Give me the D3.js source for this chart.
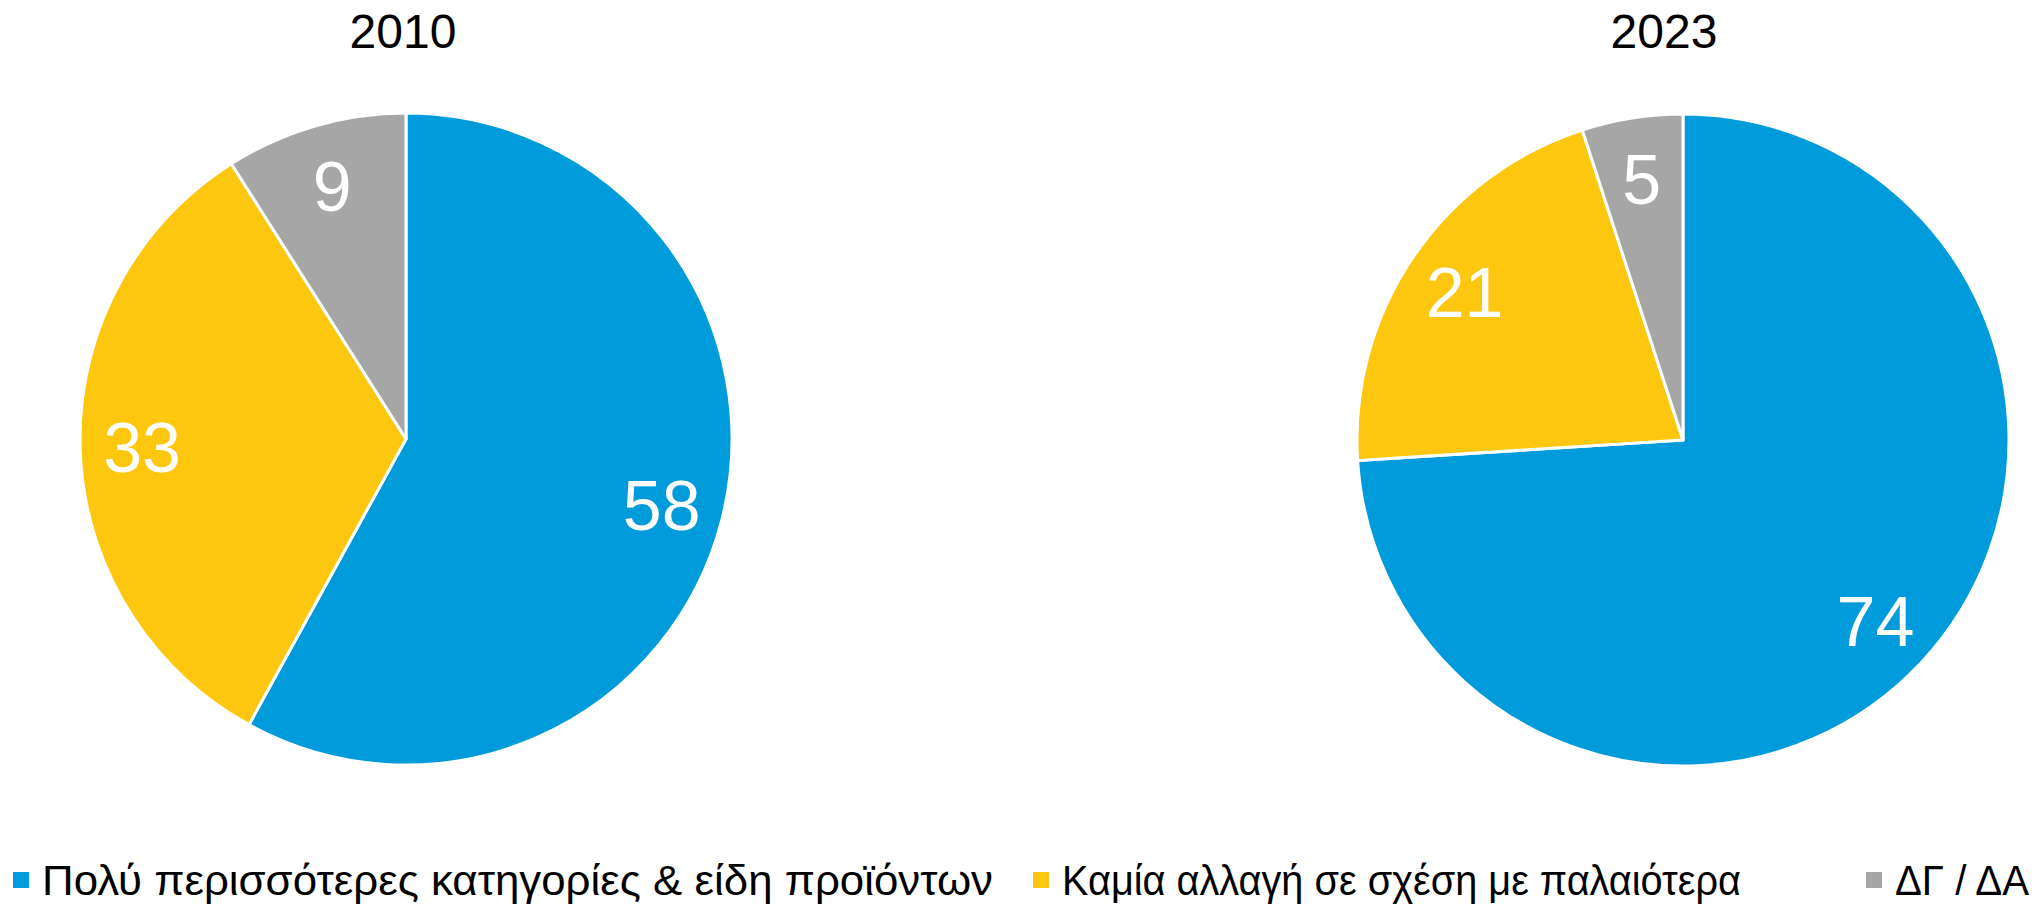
<!DOCTYPE html>
<html>
<head>
<meta charset="utf-8">
<script src="https://cdn.jsdelivr.net/npm/d3@7"></script>
<style>
  body { margin: 0; background: #fff; }
  svg { display: block; }
</style>
</head>
<body>
<div id="chart"></div>
<script>
// data
var categories = ["Πολύ περισσότερες κατηγορίες & είδη προϊόντων", "Καμία αλλαγή σε σχέση με παλαιότερα", "ΔΓ / ΔΑ"];
var years = ["2010", "2023"];
var values2010 = [58, 33, 9];
var values2023 = [74, 21, 5];
var colors = ["#009bdb", "#fdc60f", "#a6a6a6"];

var width = 2043, height = 904;

var svg = d3.select("#chart")
  .append("svg")
    .attr("width", width)
    .attr("height", height);

var color = d3.scaleOrdinal().domain(categories).range(colors);

var pie = d3.pie().sort(null).value(function(d) { return d.value; });
var radius = 326;
var arc = d3.arc().innerRadius(0).outerRadius(radius);
var labelArc = d3.arc().innerRadius(radius * 0.81).outerRadius(radius * 0.81);

var pies = [
  {year: years[0], values: values2010, cx: 406, cy: 439, tx: 403},
  {year: years[1], values: values2023, cx: 1683, cy: 440, tx: 1664}
];

pies.forEach(function(p) {
  var data = categories.map(function(c, i) { return {cat: c, value: p.values[i]}; });
  var g = svg.append("g")
      .attr("transform", "translate(" + p.cx + "," + p.cy + ")");

  g.selectAll("path")
    .data(pie(data))
    .enter()
    .append("path")
      .attr("d", arc)
      .style("fill", function(d) { return color(d.data.cat); })
      .style("stroke", "#fff")
      .style("stroke-width", 3)
      .style("stroke-linejoin", "round");

  g.selectAll("text.val")
    .data(pie(data))
    .enter()
    .append("text")
      .attr("class", "val")
      .attr("transform", function(d) { return "translate(" + labelArc.centroid(d) + ")"; })
      .attr("text-anchor", "middle")
      .attr("dy", "0.36em")
      .style("font-family", "'Liberation Sans', Arial, sans-serif")
      .style("font-size", "70px")
      .style("fill", "#fff")
      .text(function(d) { return d.data.value; });

  // title
  svg.append("text")
      .attr("x", p.tx)
      .attr("y", 48)
      .attr("text-anchor", "middle")
      .style("font-family", "'Liberation Sans', Arial, sans-serif")
      .style("font-size", "48px")
      .style("fill", "#000")
      .text(p.year);
});

// legend (reference font is condensed, so squeeze text to its width)
var legendX = [13, 1033, 1866];
var legendW = [951, 679, 134];
var legend = svg.selectAll("g.legend")
  .data(categories)
  .enter()
  .append("g")
    .attr("class", "legend")
    .attr("transform", function(d, i) { return "translate(" + legendX[i] + ",880)"; });

legend.append("rect")
    .attr("x", 0)
    .attr("y", -8)
    .attr("width", 16)
    .attr("height", 16)
    .style("fill", function(d) { return color(d); });

legend.append("text")
    .attr("x", 29)
    .attr("y", 0)
    .attr("dy", "0.35em")
    .attr("textLength", function(d, i) { return legendW[i]; })
    .attr("lengthAdjust", "spacingAndGlyphs")
    .style("font-family", "'Liberation Sans', Arial, sans-serif")
    .style("font-size", "43px")
    .style("fill", "#000")
    .text(function(d) { return d; });
</script>
</body>
</html>
